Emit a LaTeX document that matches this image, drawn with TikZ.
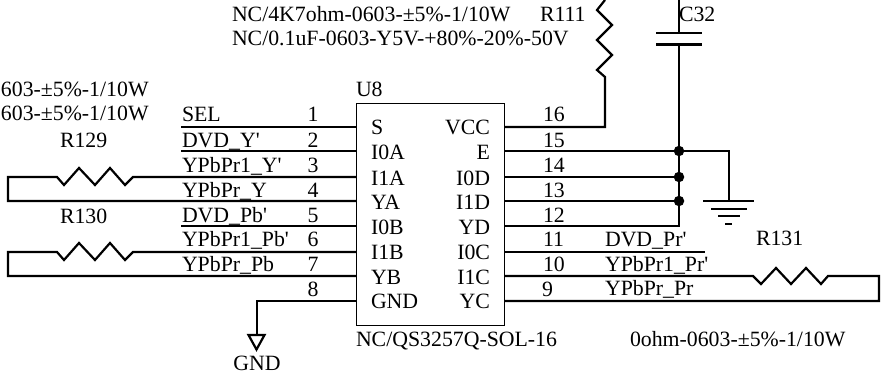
\documentclass[tikz,border=0pt]{standalone}
\usepackage{fontspec}
\newfontfamily\lab{Liberation Serif}
\tikzset{
  txt/.style={inner sep=0pt,outer sep=0pt,anchor=base west,font=\lab\fontsize{21.8}{24}\selectfont,text=black},
  txtr/.style={txt,anchor=base east},
  txtc/.style={txt,anchor=base},
  wire/.style={line width=2.2pt,line join=miter,line cap=butt},
  chip/.style={draw,line width=1pt,inner sep=0pt,minimum width=148pt,minimum height=222pt,anchor=north west},
  dotj/.style={circle,fill=black,inner sep=0pt,minimum size=10.5pt}
}
\begin{document}
\begin{tikzpicture}[x=1pt,y=-1pt]
\useasboundingbox (0,0) rectangle (890,382);
% chip
\node[chip] (U8) at (356,103) {};
% left pin ends on chip
\foreach \n/\y in {1/127,2/151,3/177,4/201,5/226,6/252,7/276,8/301}{\coordinate (L\n) at (356,\y);}
\foreach \n/\y in {16/127,15/151,14/177,13/201,12/226,11/252,10/276,9/301}{\coordinate (R\n) at (504,\y);}
% left wires
\coordinate (A1) at (181,127); \coordinate (A2) at (181,151); \coordinate (A5) at (181,226);
\draw[wire] (A1) -- (L1);
\draw[wire] (A2) -- (L2);
\draw[wire] (A5) -- (L5);
\coordinate (B3) at (8,177); \coordinate (B4) at (8,201);
\draw[wire] (L3) -- (133,177) -- (125,185) -- (110,168) -- (95,185) -- (79,168) -- (64,185) -- (57,177) -- (B3) -- (B4) -- (L4);
\coordinate (B6) at (8,252); \coordinate (B7) at (8,276);
\draw[wire] (L6) -- (133,252) -- (125,260) -- (110,243) -- (95,260) -- (79,243) -- (64,260) -- (57,252) -- (B6) -- (B7) -- (L7);
% GND
\coordinate (G1) at (257,301); \coordinate (G2) at (257,335);
\draw[wire] (L8) -- (G1) -- (G2);
\draw[wire,line join=miter] (248.5,335) -- (264.5,335) -- (256.5,349.5) -- cycle;
% right wires
\coordinate (V1) at (605,127);
\draw[wire] (R16) -- (V1) -- (605,77) -- (597,70) -- (612,55) -- (597,40) -- (612,25) -- (597,10) -- (605,0);
\node[dotj] (J15) at (679,151) {};
\node[dotj] (J14) at (679,177) {};
\node[dotj] (J13) at (679,201) {};
\coordinate (J12) at (679,226);
\coordinate (CT) at (679,0); \coordinate (C1) at (679,33); \coordinate (C2) at (679,44.5);
\draw[wire] (CT) -- (C1);
\draw[wire] (C2) -- (J15.center) -- (J14.center) -- (J13.center) -- (J12) -- (R12);
\draw[wire] (656,33) -- (702,33);
\draw[wire] (656,44.5) -- (702,44.5);
\draw[wire] (R14) -- (J14);
\draw[wire] (R13) -- (J13);
\coordinate (E1) at (729,151); \coordinate (E2) at (729,201);
\draw[wire] (R15) -- (E1) -- (E2);
\draw[wire] (703,201) -- (754,201);
\draw[wire] (711,209) -- (747,209);
\draw[wire] (718,216) -- (740,216);
\draw[wire] (725,224) -- (732,224);
\coordinate (F11) at (705,252);
\draw[wire] (R11) -- (F11);
\coordinate (F10) at (879,276); \coordinate (F9) at (879,301);
\draw[wire] (R10) -- (753,276) -- (761,284) -- (776,268) -- (791,284) -- (806,268) -- (821,284) -- (828,276) -- (F10) -- (F9) -- (R9);
% top texts
\node[txt] (t1) at (232,22) {NC/4K7ohm-0603-±5\%-1/10W};
\node[txt] (t2) at (232,46) {NC/0.1uF-0603-Y5V-+80\%-20\%-50V};
\node[txt] (t3) at (540,22) {R111};
\node[txt] (t4) at (679,22) {C32};
\node[txt] (t5) at (1,97) {603-±5\%-1/10W};
\node[txt] (t6) at (1,121) {603-±5\%-1/10W};
\node[txt] (t7) at (60,147) {R129};
\node[txt] (t8) at (60,223) {R130};
\node[txt] (t9) at (356,97) {U8};
% left net labels
\node[txt] (n1) at (182,122) {SEL};
\node[txt] (n2) at (182,147) {DVD\_Y'};
\node[txt] (n3) at (182,172) {YPbPr1\_Y'};
\node[txt] (n4) at (182,197) {YPbPr\_Y};
\node[txt] (n5) at (182,222) {DVD\_Pb'};
\node[txt] (n6) at (182,246) {YPbPr1\_Pb'};
\node[txt] (n7) at (182,271) {YPbPr\_Pb};
% left pin numbers
\foreach \n/\y in {1/122,2/147,3/172,4/197,5/222,6/246,7/271,8/296}{\node[txtc] (pl\n) at (313,\y) {\n};}
% right pin numbers
\foreach \n/\y in {16/122,15/147,14/172,13/197,12/222,11/246,10/271}{\node[txt] (pr\n) at (543,\y) {\n};}
\node[txt] (pr9) at (542,296) {9};
% right net labels
\node[txt] (n11) at (605,246) {DVD\_Pr'};
\node[txt] (n10) at (605,271) {YPbPr1\_Pr'};
\node[txt] (n9) at (605,295) {YPbPr\_Pr};
% chip pin names
\foreach \s/\y in {S/135,I0A/160,I1A/185,YA/209,I0B/234,I1B/259,YB/284,GND/308}{\node[txt] (in\s) at (371,\y) {\s};}
\foreach \s/\y in {VCC/135,E/160,I0D/185,I1D/209,YD/234,I0C/259,I1C/284,YC/308}{\node[txtr] (out\s) at (490,\y) {\s};}
% bottom
\node[txt] (b1) at (356,346) {NC/QS3257Q-SOL-16};
\node[txt] (b2) at (630,346) {0ohm-0603-±5\%-1/10W};
\node[txt] (b3) at (756,245) {R131};
\node[txtc] (b4) at (257,370) {GND};
\end{tikzpicture}
\end{document}
